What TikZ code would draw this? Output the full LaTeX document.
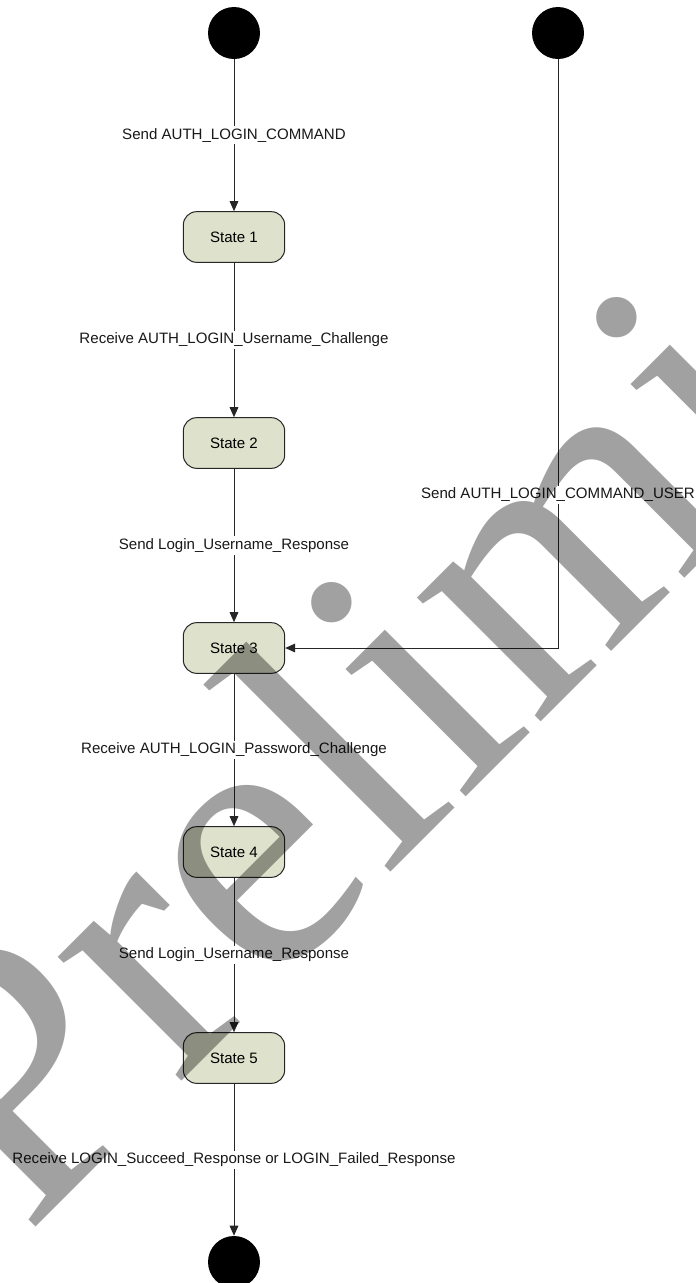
\documentclass[tikz,border=0pt]{standalone}
\usepackage{fontspec}
\setmainfont{Liberation Sans}
\newfontfamily\wmfont{Liberation Serif}
\usetikzlibrary{arrows.meta,positioning}
\definecolor{statefill}{RGB}{222,225,203}

\begin{document}
\begin{tikzpicture}[x=0.75pt, y=-0.75pt,
  font=\fontsize{11.3}{13}\selectfont,
  statebox/.style={rectangle, rounded corners=10pt, draw=black!85, line width=0.75pt,
    fill=statefill, minimum width=76pt, minimum height=38pt, inner sep=0pt},
  endpoint/.style={circle, fill=black, draw=none, minimum size=39pt, inner sep=0pt},
  flow/.style={draw=black!85, line width=0.75pt, -{Triangle[length=7.5pt,width=6.5pt]}},
  lbl/.style={fill=white, inner sep=1.5pt, text=black!90}]
\useasboundingbox (0,0) rectangle (696,1283);
\clip (0,0) rectangle (696,1283);

% start and end points
\node[endpoint] (start)  at (234,33) {};
\node[endpoint] (startB) at (558,33) {};
\node[endpoint] (stop)   at (234,1262) {};

% states
\node[statebox] (s1) at (234,237)  {State 1};
\node[statebox] (s2) at (234,443)  {State 2};
\node[statebox] (s3) at (234,648)  {State 3};
\node[statebox] (s4) at (234,852)  {State 4};
\node[statebox] (s5) at (234,1058) {State 5};

% transitions
\draw[flow] (start) -- (s1) node[midway, lbl] {Send AUTH\_LOGIN\_COMMAND};
\draw[flow] (s1) -- (s2) node[midway, lbl] {Receive AUTH\_LOGIN\_Username\_Challenge};
\draw[flow] (s2) -- (s3) node[midway, lbl] {Send Login\_Username\_Response};
\draw[flow] (s3) -- (s4) node[midway, lbl] {Receive AUTH\_LOGIN\_Password\_Challenge};
\draw[flow] (s4) -- (s5) node[midway, lbl] {Send Login\_Username\_Response};
\draw[flow] (s5) -- (stop) node[midway, lbl] {Receive LOGIN\_Succeed\_Response or LOGIN\_Failed\_Response};
\draw[flow] (startB) |- (s3) node[pos=0.37, lbl] {Send AUTH\_LOGIN\_COMMAND\_USER};

% watermark
\node[rotate=45, anchor=base west, inner sep=0pt,
  font=\wmfont\fontsize{286}{286}\selectfont, text=black, text opacity=0.37]
  (mark) at (26,1237) {Preliminary};
\end{tikzpicture}
\end{document}
